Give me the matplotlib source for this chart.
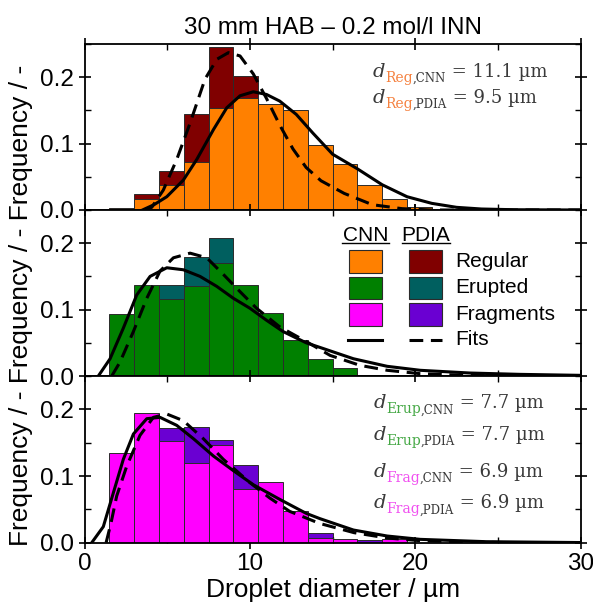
import matplotlib
matplotlib.use('Agg')
import matplotlib.pyplot as plt
import matplotlib.transforms as mtransforms
from matplotlib.patches import Rectangle
from matplotlib.lines import Line2D

plt.rcParams['font.family'] = ['Liberation Sans', 'DejaVu Sans']

# histogram bins (left edges, 1.5 um wide)
bin_left = [1.5, 3.0, 4.5, 6.0, 7.5, 9.0, 10.5, 12.0, 13.5, 15.0, 16.5, 18.0, 19.5]
bin_width = 1.5

# frequencies
reg_cnn = [0.003, 0.017, 0.037, 0.072, 0.154, 0.168, 0.159, 0.150, 0.098, 0.069, 0.038, 0.017, 0.004]
reg_pdia = [0.002, 0.024, 0.058, 0.144, 0.245, 0.202, 0.140, 0.090, 0.045, 0.030, 0.012, 0.004, 0.001]
erup_cnn = [0.093, 0.137, 0.116, 0.136, 0.170, 0.137, 0.095, 0.054, 0.025, 0.012, 0.002, 0.0, 0.0]
erup_pdia = [0.050, 0.120, 0.137, 0.179, 0.208, 0.120, 0.080, 0.050, 0.020, 0.008, 0.002, 0.0, 0.0]
frag_cnn = [0.134, 0.194, 0.152, 0.120, 0.147, 0.080, 0.091, 0.047, 0.007, 0.006, 0.0, 0.006, 0.0]
frag_pdia = [0.080, 0.170, 0.172, 0.173, 0.154, 0.117, 0.070, 0.040, 0.014, 0.003, 0.0035, 0.0, 0.0]

# fit curves
reg_cnn_fit_x = [3.5, 4.2, 4.97, 5.97, 6.78, 7.79, 8.6, 9.4, 10.2, 11.0, 11.8, 12.8, 13.8, 15.0, 16.5, 18.0, 19.5, 21.0, 22.5, 24.0, 26.0, 30.0]
reg_cnn_fit_y = [0.0, 0.008, 0.020, 0.045, 0.076, 0.121, 0.154, 0.172, 0.178, 0.174, 0.164, 0.144, 0.116, 0.084, 0.062, 0.038, 0.020, 0.010, 0.004, 0.0015, 0.0004, 0.0]
reg_pdia_fit_x = [3.6, 4.06, 4.76, 5.57, 6.38, 7.28, 8.0, 8.7, 9.4, 10.2, 11.0, 11.8, 12.6, 13.4, 14.3, 15.7, 17.4, 19.2, 21.0, 30.0]
reg_pdia_fit_y = [0.0, 0.004, 0.030, 0.076, 0.131, 0.197, 0.227, 0.237, 0.232, 0.205, 0.168, 0.128, 0.092, 0.064, 0.044, 0.025, 0.008, 0.002, 0.0, 0.0]

erup_cnn_fit_x = [0.83, 1.54, 2.34, 3.15, 3.96, 4.97, 5.97, 6.98, 7.99, 9.0, 10.0, 11.0, 12.0, 13.4, 14.24, 16.26, 18.3, 20.3, 23.3, 26.3, 30.0]
erup_cnn_fit_y = [0.0, 0.026, 0.072, 0.122, 0.150, 0.163, 0.160, 0.150, 0.135, 0.117, 0.102, 0.084, 0.067, 0.050, 0.043, 0.026, 0.0146, 0.0086, 0.0045, 0.0025, 0.001]
erup_pdia_fit_x = [1.64, 2.14, 2.95, 3.76, 4.56, 5.37, 6.38, 7.39, 8.39, 9.4, 10.4, 11.8, 13.4, 14.85, 16.66, 18.3, 20.3, 23.0, 26.0, 30.0]
erup_pdia_fit_y = [0.0, 0.021, 0.067, 0.117, 0.158, 0.178, 0.185, 0.178, 0.153, 0.127, 0.102, 0.074, 0.052, 0.031, 0.016, 0.0086, 0.0035, 0.001, 0.0, 0.0]

frag_cnn_fit_x = [0.43, 1.13, 1.74, 2.34, 2.95, 3.76, 4.56, 5.57, 6.58, 7.79, 9.0, 10.2, 11.8, 13.4, 14.24, 16.26, 18.3, 20.3, 24.3, 30.0]
frag_cnn_fit_y = [0.0, 0.024, 0.075, 0.125, 0.163, 0.186, 0.188, 0.176, 0.156, 0.130, 0.108, 0.087, 0.065, 0.044, 0.036, 0.019, 0.010, 0.005, 0.0015, 0.0002]
frag_pdia_fit_x = [1.3, 1.6, 1.94, 2.55, 3.35, 4.16, 4.97, 5.97, 7.18, 8.39, 10.0, 11.2, 12.4, 14.2, 16.3, 18.3, 20.3, 23.0, 26.0, 30.0]
frag_pdia_fit_y = [0.0, 0.030, 0.070, 0.115, 0.161, 0.188, 0.193, 0.183, 0.156, 0.125, 0.090, 0.067, 0.047, 0.029, 0.015, 0.007, 0.003, 0.001, 0.0, 0.0]

panels = [
    (reg_cnn, reg_pdia, '#FF8000', '#800000', reg_cnn_fit_x, reg_cnn_fit_y, reg_pdia_fit_x, reg_pdia_fit_y),
    (erup_cnn, erup_pdia, '#008000', '#005F5F', erup_cnn_fit_x, erup_cnn_fit_y, erup_pdia_fit_x, erup_pdia_fit_y),
    (frag_cnn, frag_pdia, '#FF00FF', '#6A00D2', frag_cnn_fit_x, frag_cnn_fit_y, frag_pdia_fit_x, frag_pdia_fit_y),
]

fig = plt.figure(figsize=(5.93, 6.05), dpi=100)
boxes = [[0.1427, 0.6529, 0.8364, 0.2744],
         [0.1427, 0.3785, 0.8364, 0.2744],
         [0.1427, 0.1030, 0.8364, 0.2755]]
axes = []
edge = '#2b2b2b'
for box, (cnn, pdia, c_cnn, c_pdia, fx1, fy1, fx2, fy2) in zip(boxes, panels):
    ax = fig.add_axes(box)
    ax.bar(bin_left, pdia, width=bin_width, align='edge', color=c_pdia, edgecolor=edge, linewidth=0.7, zorder=1)
    ax.bar(bin_left, cnn, width=bin_width, align='edge', color=c_cnn, edgecolor=edge, linewidth=0.7, zorder=2)
    ax.plot(fx1, fy1, color='black', lw=2.2, zorder=3)
    ax.plot(fx2, fy2, color='black', lw=2.2, linestyle=(0, (4.5, 2.5)), zorder=3)
    ax.set_xlim(0, 30)
    ax.set_ylim(0, 0.25)
    ax.set_yticks([0.0, 0.1, 0.2])
    ax.set_yticklabels(['0.0', '0.1', '0.2'])
    ax.set_yticks([0.05, 0.15, 0.25], minor=True)
    ax.set_xticks([0, 10, 20, 30])
    ax.set_xticks([5, 15, 25], minor=True)
    ax.tick_params(which='major', direction='inout', length=9, width=1.2, top=True, right=True,
                   labelsize=17.5, pad=3)
    ax.tick_params(which='minor', direction='in', length=4, width=1.0, top=True, right=True)
    for sp in ax.spines.values():
        sp.set_linewidth(1.3)
    axes.append(ax)

axes[0].tick_params(labelbottom=False)
axes[1].tick_params(labelbottom=False)
axes[2].set_xticklabels(['0', '10', '20', '30'])

axes[0].set_title('30 mm HAB – 0.2 mol/l INN', fontsize=17.5, pad=7)
axes[2].set_xlabel('Droplet diameter / µm', fontsize=19, labelpad=2)
fig.text(0.036, 0.495, 'Frequency / - Frequency / - Frequency / -', rotation=90,
         ha='center', va='center', fontsize=19)

# annotations with coloured subscripts
txtc = '#3a3a3a'
renderer = fig.canvas.get_renderer()


def rich_text(ax, x, y, pieces):
    ox = 0.0
    for s, size, color, style, dy in pieces:
        tr = mtransforms.offset_copy(ax.transAxes, x=ox, y=dy, units='dots')
        t = ax.text(x, y, s, transform=tr, fontsize=size, color=color, fontstyle=style,
                    family='DejaVu Serif', va='baseline', ha='left', zorder=5)
        ox += t.get_window_extent(renderer).width


def d_label(ax, x, y, sub, subc, meth, val):
    rich_text(ax, x, y, [('d', 14, txtc, 'italic', 0),
                         (sub, 10, subc, 'normal', -5),
                         (',' + meth, 8.5, txtc, 'normal', -5),
                         (' = ' + val + ' µm', 13, txtc, 'normal', 0)])


d_label(axes[0], 0.581, 0.803, 'Reg', '#F5813F', 'CNN', '11.1')
d_label(axes[0], 0.581, 0.643, 'Reg', '#F5813F', 'PDIA', '9.5')
d_label(axes[2], 0.582, 0.806, 'Erup', '#45A845', 'CNN', '7.7')
d_label(axes[2], 0.582, 0.616, 'Erup', '#45A845', 'PDIA', '7.7')
d_label(axes[2], 0.582, 0.396, 'Frag', '#F050F0', 'CNN', '6.9')
d_label(axes[2], 0.582, 0.206, 'Frag', '#F050F0', 'PDIA', '6.9')

# hand-made legend in the middle panel
ax = axes[1]
tA = ax.transAxes
ax.text(0.5216, 0.815, 'CNN', transform=tA, fontsize=15, va='baseline', ha='left')
ax.text(0.6393, 0.815, 'PDIA', transform=tA, fontsize=15, va='baseline', ha='left')
ax.add_line(Line2D([0.5198, 0.6135], [0.799, 0.799], transform=tA, color='black', lw=1))
ax.add_line(Line2D([0.6393, 0.7367], [0.799, 0.799], transform=tA, color='black', lw=1))
legend_names = ['Regular', 'Erupted', 'Fragments']
row_y = [0.622, 0.462, 0.301]
for (cnn, pdia, c_cnn, c_pdia, *_), name, ry in zip(panels, legend_names, row_y):
    ax.add_patch(Rectangle((0.5331, ry), 0.0659, 0.137, transform=tA, facecolor=c_cnn,
                           edgecolor=edge, lw=0.8, zorder=5))
    ax.add_patch(Rectangle((0.654, ry), 0.0659, 0.137, transform=tA, facecolor=c_pdia,
                           edgecolor=edge, lw=0.8, zorder=5))
    ax.text(0.7468, ry + 0.0685, name, transform=tA, fontsize=15, va='center', ha='left')
ax.add_line(Line2D([0.5317, 0.599], [0.217, 0.217], transform=tA, color='black', lw=2.2))
ax.add_line(Line2D([0.654, 0.7206], [0.217, 0.217], transform=tA, color='black', lw=2.2,
                   linestyle=(0, (4.5, 2.5))))
ax.text(0.7468, 0.217, 'Fits', transform=tA, fontsize=15, va='center', ha='left')

fig.savefig('out.png', dpi=100)
